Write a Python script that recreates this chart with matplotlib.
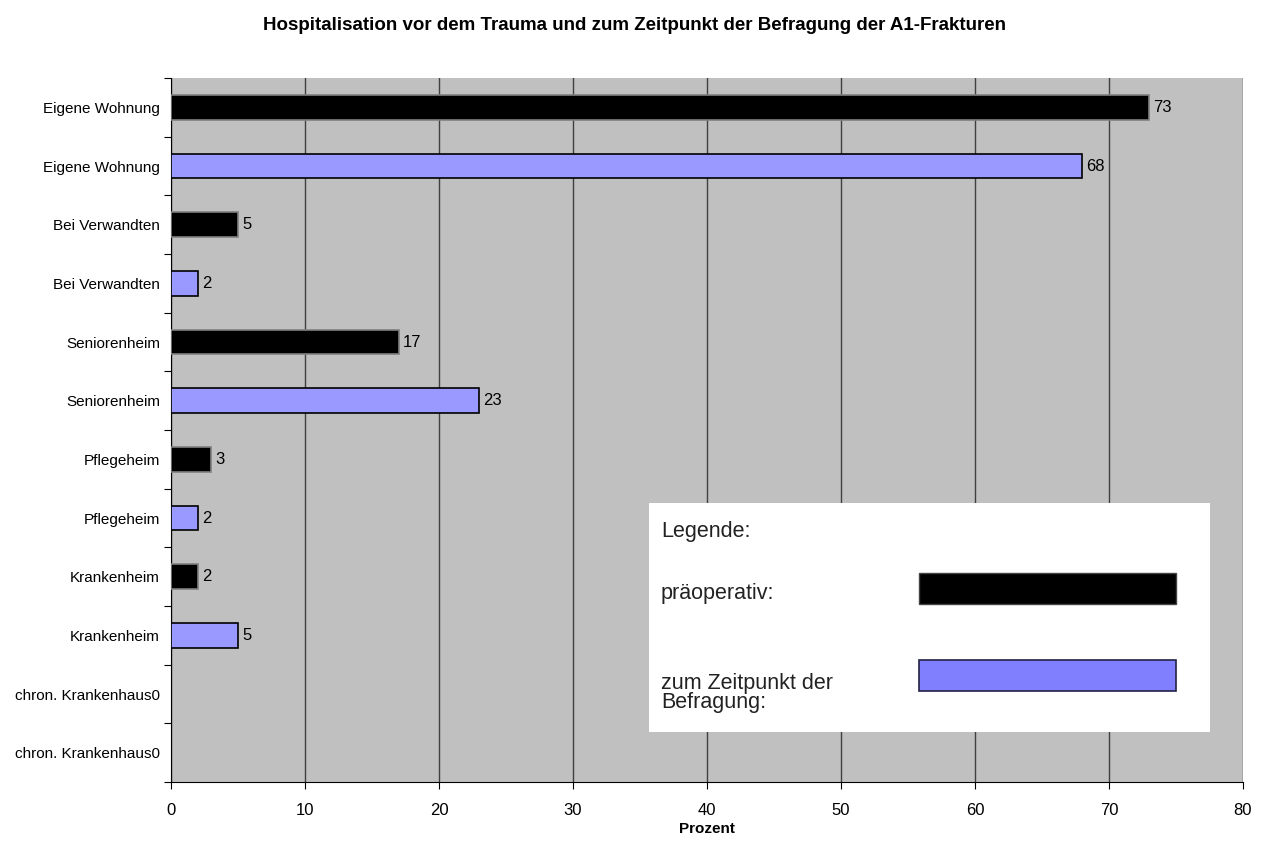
import matplotlib.pyplot as plt
from matplotlib.patches import Rectangle

categories = [
    "Eigene Wohnung", "Eigene Wohnung",
    "Bei Verwandten", "Bei Verwandten",
    "Seniorenheim", "Seniorenheim",
    "Pflegeheim", "Pflegeheim",
    "Krankenheim", "Krankenheim",
    "chron. Krankenhaus0", "chron. Krankenhaus0",
]
values = [73, 68, 5, 2, 17, 23, 3, 2, 2, 5, 0, 0]
groups = ["prae", "befr"] * 6
x_ticks = [0, 10, 20, 30, 40, 50, 60, 70, 80]

COLORS = {"prae": "#000000", "befr": "#9999FF"}
EDGES = {"prae": "#808080", "befr": "#000000"}
FONT = ["Liberation Sans Narrow", "Liberation Sans", "DejaVu Sans"]

fig = plt.figure(figsize=(12.69, 8.59), dpi=100)
ax = fig.add_axes([0.1348, 0.0896, 0.8447, 0.8196])
ax.set_facecolor("#C0C0C0")

ypos = list(range(len(values)))
bars = ax.barh(ypos, values, height=0.42,
               color=[COLORS[g] for g in groups],
               edgecolor=[EDGES[g] for g in groups],
               linewidth=[1.2 if v > 0 else 0 for v in values], zorder=3)
labels = [str(v) if v > 0 else "" for v in values]
ax.bar_label(bars, labels=labels, padding=3, fontsize=12, family=FONT)

ax.set_xlim(0, 80)
ax.set_ylim(len(values) - 0.5, -0.5)
ax.set_xticks(x_ticks)
ax.set_xticklabels([str(t) for t in x_ticks], fontsize=12, family=FONT)
ax.tick_params(axis="x", length=5, pad=10)
ax.xaxis.grid(True, color="#404040", linewidth=1, zorder=0)
ax.set_axisbelow(True)

ax.set_yticks([i - 0.5 for i in range(len(values) + 1)])
ax.set_yticklabels([])
ax.set_yticks(ypos, minor=True)
ax.set_yticklabels(categories, minor=True, fontsize=11, family=FONT)
ax.tick_params(axis="y", which="major", length=5)
ax.tick_params(axis="y", which="minor", length=0, pad=8)

for s in ["top", "right"]:
    ax.spines[s].set_visible(False)

ax.set_xlabel("Prozent", fontsize=11, fontweight="bold", family=FONT, labelpad=3)
fig.text(0.5, 0.970, "Hospitalisation vor dem Trauma und zum Zeitpunkt der Befragung der A1-Frakturen",
         ha="center", va="center", fontsize=13.5, fontweight="bold", family=FONT)

# legend panel drawn as a white box in pixel units
lg = fig.add_axes([0.5114, 0.1478, 0.4421, 0.2666])
lg.set_xlim(0, 561)
lg.set_ylim(229, 0)
lg.set_facecolor("white")
lg.set_xticks([])
lg.set_yticks([])
for s in lg.spines.values():
    s.set_visible(False)
lg.text(12, 28, "Legende:", fontsize=15.5, color="#222222", va="center", family="Liberation Sans")
lg.text(12, 90, "präoperativ:", fontsize=15.5, color="#222222", va="center", family="Liberation Sans")
lg.text(12, 190, "zum Zeitpunkt der\nBefragung:", fontsize=15.5, color="#222222", va="center",
        linespacing=0.9, family="Liberation Sans")
lg.add_patch(Rectangle((270, 70), 257, 31, facecolor="#000000", edgecolor="#444444", lw=1))
lg.add_patch(Rectangle((270, 157), 257, 31, facecolor="#8080FF", edgecolor="#222244", lw=1.2))

fig.savefig("out.png", dpi=100)
